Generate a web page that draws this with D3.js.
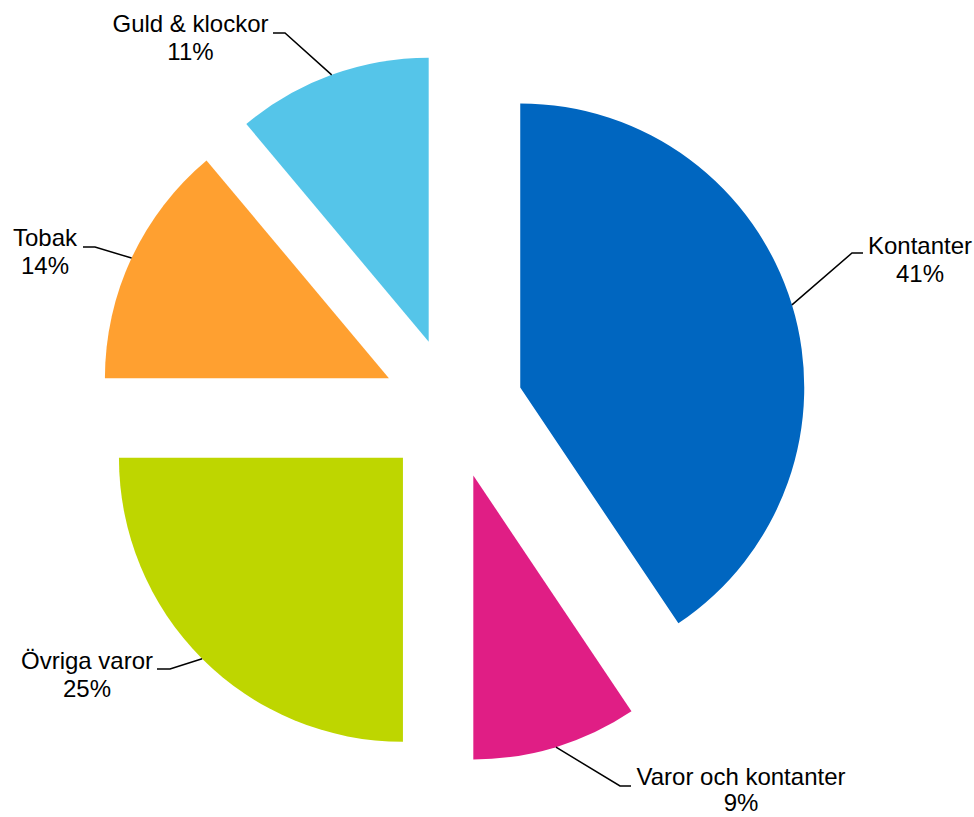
<!DOCTYPE html>
<html><head><meta charset="utf-8">
<script src="https://cdn.jsdelivr.net/npm/d3@7"></script>
<style>html,body{margin:0;padding:0;background:#fff;} svg{display:block;}</style>
</head><body>
<svg id="chart" width="974" height="817"></svg>
<script>
const categories = ["Kontanter", "Varor och kontanter", "Övriga varor", "Tobak", "Guld & klockor"];
const values = [40.6, 9.4, 25.0, 13.9, 11.1];
const colors = ["#0066C0", "#E01E85", "#BED600", "#FFA030", "#55C5E9"];

// layout (positions kept separate from the data)
const cx = 452.8, cy = 408, R = 284, explode = 70.5;
const labelLayout = [
  {ex: 852, ey: 253, hx: 863, tx: 920, ty: 253.5, gap: 28},
  {ex: 620, ey: 786, hx: 631, tx: 741, ty: 785,   gap: 26},
  {ex: 170, ey: 669, hx: 157, tx: 87,  ty: 669,   gap: 28},
  {ex: 95,  ey: 247, hx: 83,  tx: 45,  ty: 246,   gap: 28},
  {ex: 285, ey: 33,  hx: 273, tx: 190.5, ty: 32,  gap: 28}
];

const svg = d3.select("#chart");
const total = d3.sum(values);
const arcs = d3.pie().sort(null).value(d => d)(values);
const arc = d3.arc().innerRadius(0).outerRadius(R);
const fmt = d3.format(".0%");

const g = svg.append("g").attr("transform", `translate(${cx},${cy})`);

function offset(d) {
  const m = (d.startAngle + d.endAngle) / 2;
  return [Math.sin(m) * explode, -Math.cos(m) * explode];
}

g.selectAll("path.slice").data(arcs).join("path")
  .attr("class", "slice")
  .attr("d", arc)
  .attr("fill", (d, i) => colors[i])
  .attr("transform", d => { const o = offset(d); return `translate(${o[0]},${o[1]})`; });

// leader lines
svg.selectAll("polyline.leader").data(arcs).join("polyline")
  .attr("class", "leader")
  .attr("fill", "none")
  .attr("stroke", "#000")
  .attr("stroke-width", 1.5)
  .attr("points", (d, i) => {
    const o = offset(d);
    const m = (d.startAngle + d.endAngle) / 2;
    const sx = cx + o[0] + Math.sin(m) * R;
    const sy = cy + o[1] - Math.cos(m) * R;
    const L = labelLayout[i];
    return `${sx},${sy} ${L.ex},${L.ey} ${L.hx},${L.ey}`;
  });

const labels = svg.selectAll("text.lbl").data(arcs).join("text")
  .attr("class", "lbl")
  .attr("text-anchor", "middle")
  .attr("font-family", "'Liberation Sans', Arial, sans-serif")
  .attr("font-size", 24)
  .attr("fill", "#000");
labels.append("tspan")
  .attr("x", (d, i) => labelLayout[i].tx)
  .attr("y", (d, i) => labelLayout[i].ty)
  .text((d, i) => categories[i]);
labels.append("tspan")
  .attr("x", (d, i) => labelLayout[i].tx)
  .attr("y", (d, i) => labelLayout[i].ty + labelLayout[i].gap)
  .text((d, i) => fmt(values[i] / total));
</script>
</body></html>
